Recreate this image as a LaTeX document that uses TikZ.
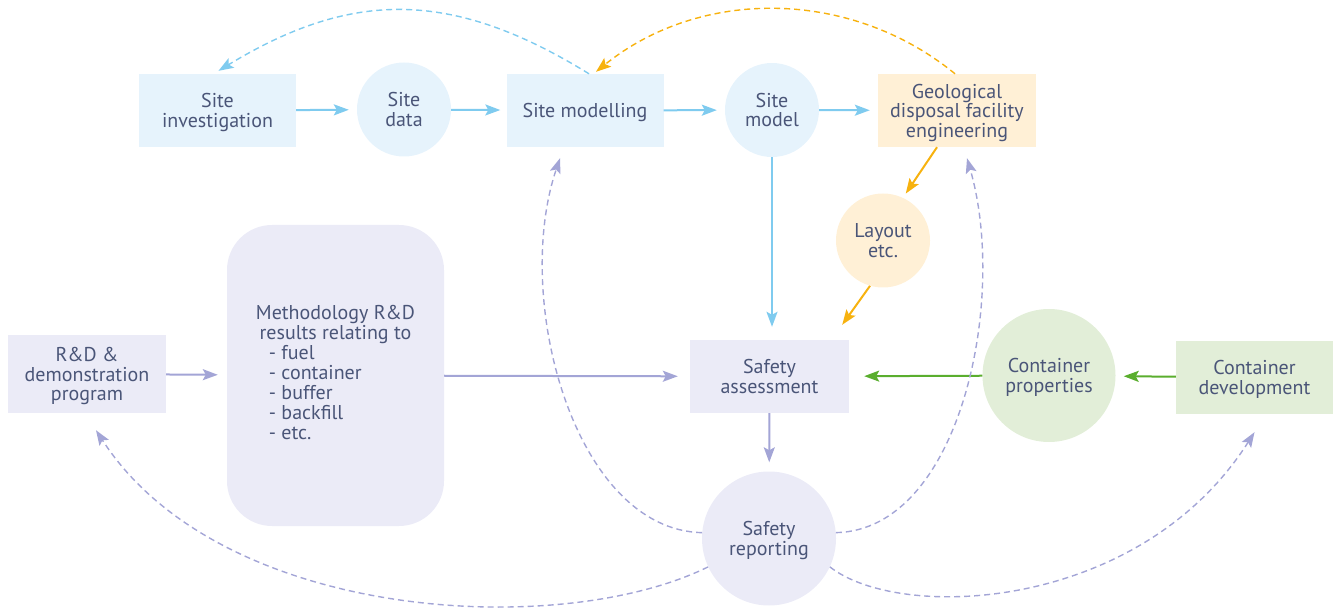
\documentclass[tikz,border=0pt]{standalone}
\usepackage{fontspec}
\setmainfont{PT Sans}
\usetikzlibrary{arrows.meta,calc}
\definecolor{txt}{HTML}{4A5578}
\definecolor{bfill}{HTML}{E6F3FC}
\definecolor{barrow}{HTML}{7FCBEF}
\definecolor{ofill}{HTML}{FFF0D6}
\definecolor{oarrow}{HTML}{F7B20F}
\definecolor{lfill}{HTML}{EBEBF7}
\definecolor{larrow}{HTML}{A3A5D6}
\definecolor{gfill}{HTML}{E2EED8}
\definecolor{garrow}{HTML}{5AAE2E}
\begin{document}
\begin{tikzpicture}[x=1pt,y=-1pt,
 every node/.style={text=txt, font=\fontsize{20}{19.5}\selectfont, align=center, inner sep=0pt},
 box/.style={rectangle, minimum width=157pt, minimum height=73pt, text depth=0pt},
 circ/.style={circle, minimum size=94pt, text depth=0pt},
 tip/.style={-{Stealth[length=15pt,width=11pt,inset=3pt]}},
 solidarr/.style={tip, line width=2pt},
 dasharr/.style={tip, line width=1.4pt, dash pattern=on 6pt off 4pt},
]
\useasboundingbox (0,0) rectangle (1335,609);

\node[box, fill=bfill] (sinv) at (217.5,110.5) {Site\\investigation};
\node[circ, fill=bfill] (sdat) at (404,109.5) {Site\\data};
\node[box, fill=bfill] (smod) at (585,110.5) {Site modelling};
\node[circ, fill=bfill] (smdl) at (772,110) {Site\\model};
\node[box, fill=ofill, minimum width=158pt] (geo) at (957,110.5) {Geological\\disposal facility\\engineering};
\node[circ, fill=ofill] (lay) at (883,240.5) {Layout\\etc.};
\node[box, fill=lfill, minimum width=159pt] (sa) at (769.5,376.5) {Safety\\assessment};
\node[circ, minimum size=133pt, fill=gfill] (cprop) at (1049,375.5) {Container\\properties};
\node[box, fill=gfill, minimum width=157pt] (cdev) at (1254.5,377.5) {Container\\development};
\node[circ, minimum size=134pt, fill=lfill] (srep) at (769,538.5) {Safety\\reporting};
\node[box, fill=lfill, minimum width=158pt, minimum height=78pt] (rnd) at (87,374) {R\&D \&\\demonstration\\program};
\node[rectangle, rounded corners=45pt, fill=lfill, minimum width=217pt, minimum height=301pt] (meth) at (335.5,375.5)
 {\raisebox{-3pt}{\begin{tabular}{@{}l@{}}\multicolumn{1}{@{}c@{}}{Methodology R\&D}\\\multicolumn{1}{@{}c@{}}{results relating to}\\
 \hspace*{13pt}- fuel\\\hspace*{13pt}- container\\\hspace*{13pt}- buffer\\\hspace*{13pt}- backfill\\\hspace*{13pt}- etc.\end{tabular}}};

\draw[solidarr, barrow, shorten >=8pt] (sinv) -- (sdat);
\draw[solidarr, barrow, shorten >=6pt] (sdat) -- (smod);
\draw[solidarr, barrow, shorten >=8pt] (smod) -- (smdl);
\draw[solidarr, barrow, shorten >=8pt] (smdl) -- (geo);
\draw[solidarr, barrow, shorten >=13pt] (smdl.south) -- (smdl.south |- sa.north);
\draw[solidarr, oarrow, shorten >=5pt] ($(geo.south)+(-20,0)$) -- (lay.65);
\draw[solidarr, oarrow] (lay.-106) -- ($(sa.north east)+(-7,-15)$);
\draw[solidarr, larrow, shorten >=9pt] (sa) -- (srep);
\draw[solidarr, garrow, shorten >=15pt] (cprop) -- (sa);
\draw[solidarr, garrow, shorten >=8pt] (cdev) -- (cprop);
\draw[solidarr, larrow, shorten >=9pt] (rnd) -- (meth);
\draw[solidarr, larrow, shorten >=12pt] (meth) -- (sa);

\draw[dasharr, barrow] ($(smod.north)+(4,0)$) .. controls (450,-12) and (350,-9) .. ($(sinv.north)+(1,-3)$);
\draw[dasharr, oarrow] ($(geo.north)+(-2,0)$) .. controls (850,-12) and (700,-12) .. ($(smod.north)+(11,-2)$);
\draw[dasharr, larrow] (srep.175) .. controls (575,530) and (512,300) .. ($(smod.south)+(-25,11)$);
\draw[dasharr, larrow] (srep.5) .. controls (960,530) and (1008,300) .. ($(geo.south)+(10,11)$);
\draw[dasharr, larrow] (srep.205) .. controls (560,640) and (220,622) .. ($(rnd.south)+(9,17)$);
\draw[dasharr, larrow] (srep.-25) .. controls (900,622) and (1140,612) .. ($(cdev.south)+(0,18)$);
\end{tikzpicture}
\end{document}
